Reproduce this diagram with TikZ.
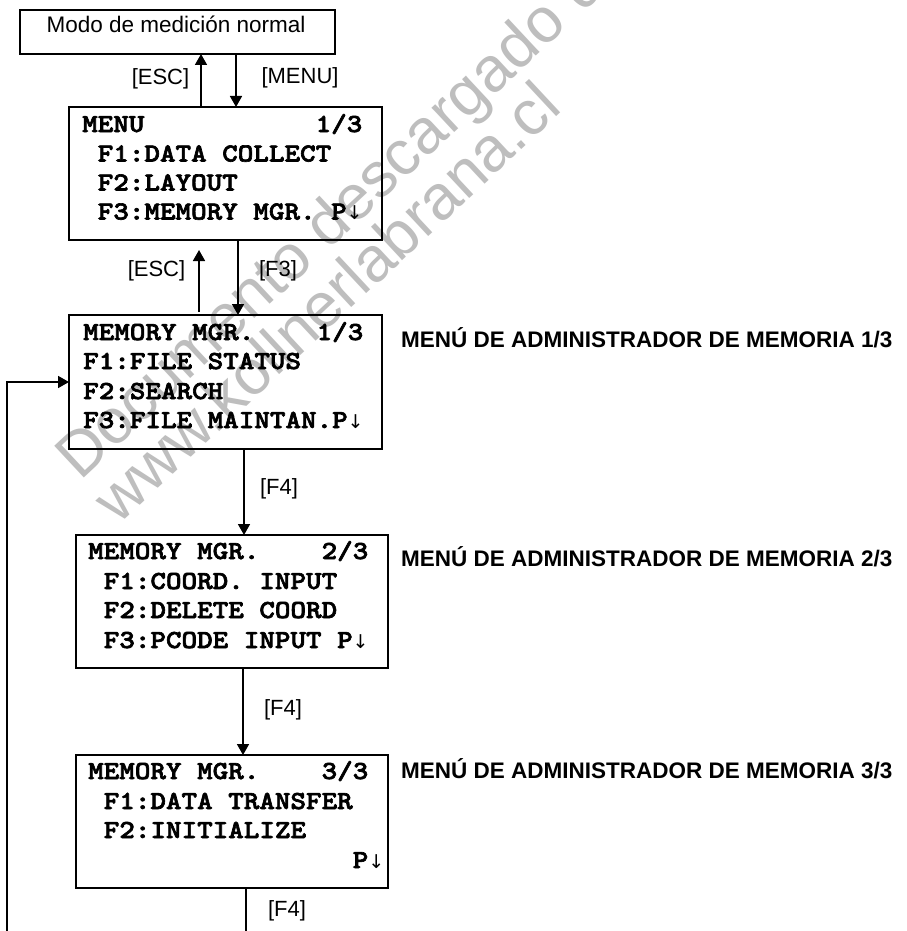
\documentclass[tikz,border=0pt]{standalone}
\usepackage{fontspec}
\setmainfont{Liberation Sans}
\newfontfamily\monofnt{lmmonolt10-bold.otf}[FakeStretch=1.14,FakeBold=2.5]
\newfontfamily\arrfnt{DejaVu Sans}
\newcommand\dnarr{\makebox[15.6pt][l]{\arrfnt\fontsize{19}{19}\selectfont ↓}}
\usetikzlibrary{arrows.meta}
\definecolor{wm}{RGB}{190,190,190}
\begin{document}
\begin{tikzpicture}[x=1pt,y=-1pt,
  boxst/.style={draw, line width=2pt, inner sep=0pt, outer sep=0pt, anchor=north west},
  scr/.style={font=\monofnt\fontsize{26}{30}\selectfont, anchor=base west, inner sep=0pt},
  lbl/.style={font=\fontsize{22}{26}\selectfont, inner sep=0pt, anchor=center},
  side/.style={font=\bfseries\fontsize{22.5}{26}\selectfont, anchor=base west, inner sep=0pt},
  arr/.style={line width=1.7pt, -{Triangle[length=11pt,width=12pt]}},
  ln/.style={line width=1.7pt},
  wmk/.style={font=\fontsize{63}{63}\selectfont, text=wm, rotate=43, anchor=base west, inner sep=0pt}]
\path[use as bounding box, fill=white] (0,0) rectangle (906,931);
% watermark
\begin{scope}
\clip (0,0) rectangle (906,931);
\node[wmk] (wm1) at (80,482) {Documento descargado de};
\node[wmk] (wm2) at (118,526) {www.kollnerlabrana.cl};
\end{scope}
% boxes
\node[boxst, minimum width=315, minimum height=44] (box1) at (20,10) {};
\node[boxst, minimum width=313, minimum height=133] (box2) at (69,107) {};
\node[boxst, minimum width=313, minimum height=134] (box3) at (69,315) {};
\node[boxst, minimum width=312, minimum height=133] (box4) at (76,535) {};
\node[boxst, minimum width=312, minimum height=133] (box5) at (76,755) {};
% box texts
\node[font=\fontsize{22.5}{26}\selectfont, anchor=base, inner sep=0pt] (t1) at (176,33) {Modo de medición normal};
\node[scr] (t2a) at (82,132) {MENU~~~~~~~~~~~1/3};
\node[scr] (t2b) at (82,161.5) {~F1:DATA~COLLECT};
\node[scr] (t2c) at (82,190.5) {~F2:LAYOUT};
\node[scr] (t2d) at (82,219.5) {~F3:MEMORY~MGR.~P\dnarr};
\node[scr] (t3a) at (83,340) {MEMORY~MGR.~~~~1/3};
\node[scr] (t3b) at (83,369) {F1:FILE~STATUS};
\node[scr] (t3c) at (83,399) {F2:SEARCH};
\node[scr] (t3d) at (83,428) {F3:FILE~MAINTAN.P\dnarr};
\node[scr] (t4a) at (88,559) {MEMORY~MGR.~~~~2/3};
\node[scr] (t4b) at (88,589) {~F1:COORD.~INPUT};
\node[scr] (t4c) at (88,618) {~F2:DELETE~COORD};
\node[scr] (t4d) at (88,648) {~F3:PCODE~INPUT~P\dnarr};
\node[scr] (t5a) at (88,779) {MEMORY~MGR.~~~~3/3};
\node[scr] (t5b) at (88,809) {~F1:DATA~TRANSFER};
\node[scr] (t5c) at (88,838) {~F2:INITIALIZE};
\node[scr] (t5d) at (88,868) {~~~~~~~~~~~~~~~~~P\dnarr};
% side labels
\node[side] (s1) at (401,347) {MENÚ DE ADMINISTRADOR DE MEMORIA 1/3};
\node[side] (s2) at (401,566) {MENÚ DE ADMINISTRADOR DE MEMORIA 2/3};
\node[side] (s3) at (401,778) {MENÚ DE ADMINISTRADOR DE MEMORIA 3/3};
% arrow labels
\node[lbl] (l1) at (160.5,78.5) {[ESC]};
\node[lbl] (l2) at (300,78) {[MENU]};
\node[lbl] (l3) at (156.5,271) {[ESC]};
\node[lbl] (l4) at (278,270.5) {[F3]};
\node[lbl] (l5) at (279,489) {[F4]};
\node[lbl] (l6) at (283,709.5) {[F4]};
\node[lbl] (l7) at (287,910.5) {[F4]};
% connectors
\coordinate (e3s) at (199,312);
\coordinate (e3e) at (199,250);
\coordinate (lb) at (7,931);
\coordinate (bb) at (246,931);
\draw[arr] (201,0 |- box2.north) -- (201,0 |- box1.south);
\draw[arr] (236,0 |- box1.south) -- (236,0 |- box2.north);
\draw[arr] (e3s) -- (e3e);
\draw[arr] (238,0 |- box2.south) -- (238,0 |- box3.north);
\draw[arr] (244,0 |- box3.south) -- (244,0 |- box4.north);
\draw[arr] (243,0 |- box4.south) -- (243,0 |- box5.north);
\draw[ln] (246,0 |- box5.south) -- (bb);
\draw[arr] (lb) |- (box3.west);
\end{tikzpicture}
\end{document}
